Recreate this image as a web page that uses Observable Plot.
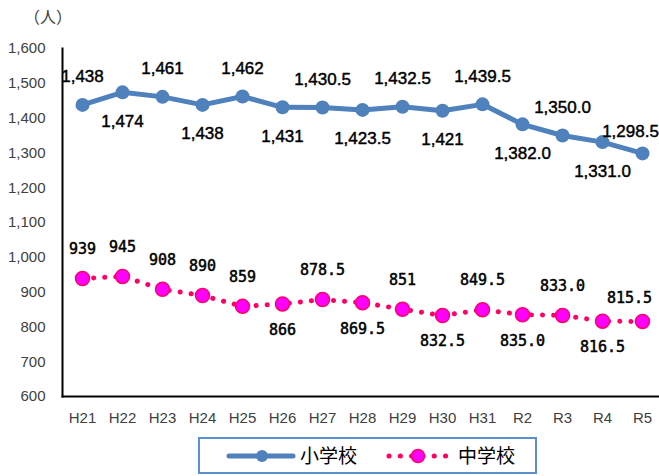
<!DOCTYPE html>
<html><head><meta charset="utf-8">
<script src="https://cdn.jsdelivr.net/npm/d3@7"></script>
<script src="https://cdn.jsdelivr.net/npm/@observablehq/plot@0.6"></script>
<style>
body{margin:0;background:#fff;}
#wrap{position:relative;width:659px;height:476px;overflow:hidden;}
#unit{position:absolute;left:24px;top:4px;font:16px "Noto Sans CJK JP";color:#404040;}
#legend{position:absolute;left:198px;top:437px;}
</style></head><body>
<div id="wrap"><div id="chart"></div><div id="unit">（人）</div>
<svg id="legend" width="340" height="38" font-family="Noto Sans CJK JP" font-size="19">
  <rect x="1" y="1" width="337" height="35" fill="#fff" stroke="#5B8FD0" stroke-width="2"/>
  <line x1="31" y1="19" x2="95" y2="19" stroke="#4F81BD" stroke-width="5" stroke-linecap="round"/>
  <circle cx="64" cy="19" r="6" fill="#4F81BD"/>
  <text x="102" y="19" dy="0.36em" fill="#000">小学校</text>
  <line x1="191" y1="19" x2="248" y2="19" stroke="#FF0066" stroke-width="5" stroke-linecap="round" stroke-dasharray="0.1 11.2"/>
  <circle cx="220" cy="19" r="6.5" fill="#FF00FF" stroke="#FF0066" stroke-width="1.5"/>
  <text x="260" y="19" dy="0.36em" fill="#000">中学校</text>
</svg>
</div>
<script>
const years = ["H21","H22","H23","H24","H25","H26","H27","H28","H29","H30","H31","R2","R3","R4","R5"];
const elementary = [1438,1474,1461,1438,1462,1431,1430.5,1423.5,1432.5,1421,1439.5,1382.0,1350.0,1331.0,1298.5];
const elementaryLabels = ["1,438","1,474","1,461","1,438","1,462","1,431","1,430.5","1,423.5","1,432.5","1,421","1,439.5","1,382.0","1,350.0","1,331.0","1,298.5"];
const middle = [939,945,908,890,859,866,878.5,869.5,851,832.5,849.5,835.0,833.0,816.5,815.5];
const middleLabels = ["939","945","908","890","859","866","878.5","869.5","851","832.5","849.5","835.0","833.0","816.5","815.5"];
const yTicks = [600,700,800,900,1000,1100,1200,1300,1400,1500,1600];

const rows = years.map((y,i)=>({year:y,e:elementary[i],m:middle[i],el:elementaryLabels[i],ml:middleLabels[i],i}));
const last = rows.length - 1;
const eAbove = rows.filter(d=>d.i%2===0 && d.i<last);
const eBelow = rows.filter(d=>d.i%2===1);
const mAbove = rows.filter(d=>(d.i<5 || d.i%2===0) && d.i<last);
const mBelow = rows.filter(d=>d.i>=5 && d.i%2===1);
const lastRow = rows.filter(d=>d.i===last);

const eFont = {fontFamily:"Liberation Sans", fontSize:17, fill:"#000", stroke:"#000", strokeWidth:0.45};
const mFont = {fontFamily:"DejaVu Sans Mono", fontSize:15, fill:"#000", stroke:"#000", strokeWidth:0.5};

const chart = Plot.plot({
  width:659, height:430,
  marginLeft:62, marginRight:0, marginTop:48, marginBottom:34,
  style:{fontFamily:"Liberation Sans", fontSize:"15px", color:"#404040", background:"transparent", overflow:"visible"},
  x:{type:"point", domain:years, padding:0, insetLeft:20, insetRight:17, label:null},
  y:{domain:[600,1600], label:null},
  marks:[
    Plot.axisX({tickSize:0, tickPadding:16, fontSize:15, fill:"#404040"}),
    Plot.axisY({ticks:yTicks, tickFormat:d3.format(","), tickSize:0, tickPadding:17, fontSize:15, fill:"#404040", label:null}),
    Plot.frame({anchor:"left", stroke:"#000", strokeWidth:2}),
    Plot.frame({anchor:"bottom", stroke:"#000", strokeWidth:2}),
    Plot.line(rows,{x:"year",y:"e",stroke:"#4F81BD",strokeWidth:5}),
    Plot.dot(rows,{x:"year",y:"e",r:7,fill:"#4F81BD"}),
    Plot.line(rows,{x:"year",y:"m",stroke:"#FF0066",strokeWidth:5,strokeDasharray:"0.1 11",strokeLinecap:"round"}),
    Plot.dot(rows,{x:"year",y:"m",r:7,fill:"#FF00FF",stroke:"#FF0066",strokeWidth:1.5}),
    Plot.text(eAbove,{x:"year",y:"e",text:"el",dy:-28,...eFont}),
    Plot.text(eBelow,{x:"year",y:"e",text:"el",dy:29,...eFont}),
    Plot.text(lastRow,{x:"year",y:"e",text:"el",dy:-22,dx:-12,...eFont}),
    Plot.text(mAbove,{x:"year",y:"m",text:"ml",dy:-29,...mFont}),
    Plot.text(mBelow,{x:"year",y:"m",text:"ml",dy:26,...mFont}),
    Plot.text(lastRow,{x:"year",y:"m",text:"ml",dy:-23,dx:-13,...mFont})
  ]
});
document.getElementById("chart").appendChild(chart);
</script>
</body></html>
